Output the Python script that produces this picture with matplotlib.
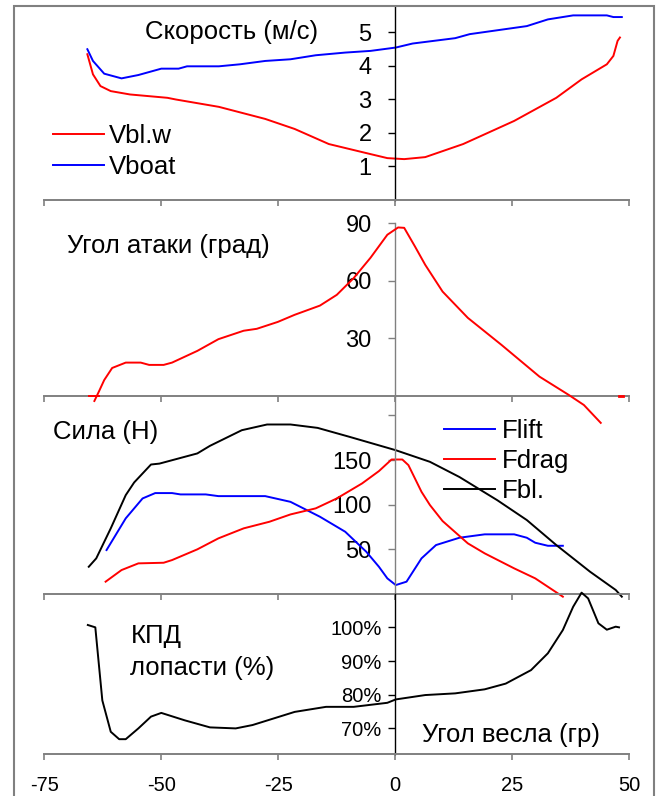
import matplotlib
matplotlib.use("Agg")
import matplotlib.pyplot as plt
from matplotlib.patches import Rectangle
from matplotlib.ticker import PercentFormatter, FixedLocator, NullFormatter

plt.rcParams['font.family'] = ['Liberation Sans', 'DejaVu Sans']
plt.rcParams['axes.unicode_minus'] = False

# ---------------- data ----------------
x_ticks = [-75, -50, -25, 0, 25, 50]

vboat_x = [-65.8, -64.6, -62.2, -58.5, -54.9, -50.0, -46.3, -44.5, -37.7, -33.2, -27.8, -22.4,
           -17.0, -10.7, -5.3, 0.1, 3.7, 12.8, 15.9, 28.1, 32.6, 38.0, 45.2, 46.6, 48.4]
vboat = [4.50, 4.15, 3.77, 3.63, 3.73, 3.92, 3.92, 3.99, 3.99, 4.05, 4.15, 4.20,
         4.32, 4.40, 4.45, 4.55, 4.67, 4.83, 4.95, 5.19, 5.39, 5.51, 5.51, 5.46, 5.46]

vblw_x = [-65.8, -64.6, -63.0, -60.8, -56.7, -48.7, -46.9, -37.7, -27.8, -21.5, -14.2, -5.3,
          -1.7, 1.9, 6.4, 14.5, 25.4, 34.4, 39.8, 45.2, 46.6, 47.5, 48.0]
vblw = [4.35, 3.75, 3.40, 3.25, 3.15, 3.05, 3.00, 2.78, 2.42, 2.12, 1.67, 1.37,
        1.25, 1.22, 1.28, 1.67, 2.36, 3.05, 3.60, 4.05, 4.30, 4.75, 4.85]

aoa_x = [-64.3, -63.3, -62.2, -60.5, -57.6, -54.4, -52.6, -49.5, -47.7, -42.3, -37.8, -32.4,
         -29.6, -25.1, -21.5, -16.1, -12.5, -8.9, -5.3, -1.7, 0.6, 1.9, 4.2, 6.4, 10.1,
         15.5, 22.7, 30.8, 37.1, 40.3, 43.9]
aoa = [-2.6, 2.5, 8.3, 14.6, 17.4, 17.4, 16.2, 16.2, 17.4, 23.5, 29.6, 34.0,
       35.0, 38.6, 42.3, 47.1, 52.7, 61.4, 72.0, 84.0, 87.8, 87.6, 77.9, 68.3, 54.4,
       40.7, 26.6, 10.1, 0.5, -4.7, -14.0]
aoa_mark_left_x = [-65.4, -63.3]
aoa_mark_right_x = [47.8, 48.7]
aoa_mark_y = [0.0, 0.0]

fbl_x = [-65.5, -63.9, -60.8, -57.6, -55.8, -52.2, -50.4, -42.3, -39.6, -32.8, -27.4, -22.4,
         -16.6, -9.8, 0.1, 7.4, 13.7, 21.8, 28.1, 34.4, 41.6, 47.1, 48.4]
fbl = [30.5, 39.9, 73.5, 110.7, 124.9, 145.0, 146.0, 157.4, 165.9, 183.4, 189.8, 189.8,
       186.0, 176.0, 161.0, 148.0, 131.0, 105.0, 82.8, 54.8, 25.0, 4.5, -3.0]

flift_x = [-61.7, -57.6, -54.0, -51.3, -47.7, -45.9, -40.5, -37.8, -27.8, -22.4, -16.1, -10.7,
           -6.2, -3.5, -1.7, 0.1, 2.4, 5.6, 8.7, 13.7, 19.1, 25.4, 28.1, 29.9, 32.6, 35.8]
flift = [49.2, 84.7, 107.0, 113.0, 113.0, 111.5, 111.5, 109.6, 109.6, 103.2, 86.5, 69.7,
         47.3, 30.5, 17.5, 10.0, 13.8, 39.9, 54.8, 63.0, 66.8, 66.8, 63.0, 57.4, 54.0, 54.0]

fdrag_x = [-61.9, -58.5, -54.9, -49.5, -47.7, -42.3, -37.8, -32.4, -26.9, -22.4, -17.0, -12.5,
           -7.1, -3.5, -0.8, 1.5, 2.8, 5.6, 7.4, 10.1, 15.5, 19.1, 25.4, 29.9, 35.8]
fdrag = [13.8, 26.8, 34.3, 35.0, 38.0, 50.0, 62.3, 73.5, 80.9, 89.1, 95.9, 107.0,
         123.8, 137.6, 150.6, 150.6, 144.3, 114.4, 99.6, 81.7, 56.7, 45.5, 28.7, 17.5, -3.0]

eff_x = [-65.7, -64.1, -63.5, -62.6, -60.8, -59.0, -57.6, -54.9, -52.2, -50.0, -45.0, -39.6,
         -34.1, -30.5, -21.5, -14.8, -8.9, -1.7, 0.1, 6.4, 12.8, 19.1, 23.6, 29.0, 32.6,
         35.8, 38.0, 39.8, 41.2, 43.4, 45.2, 47.1, 47.8]
eff = [100.7, 100.0, 91.3, 78.3, 69.0, 66.8, 66.8, 70.0, 73.5, 74.6, 72.4, 70.3,
       70.0, 71.0, 74.9, 76.4, 76.4, 77.6, 78.6, 79.9, 80.4, 81.6, 83.3, 87.3, 92.3,
       99.2, 106.1, 110.3, 108.6, 101.2, 99.3, 100.2, 100.0]

speed_ticks = [1, 2, 3, 4, 5]
aoa_ticks = [30, 60, 90]
force_ticks = [50, 100, 150, 200]
force_labels = ['50', '100', '150', '']
eff_ticks = [70, 80, 90, 100]

# ---------------- figure ----------------
W, H = 659, 796
fig = plt.figure(figsize=(W / 100, H / 100), dpi=100)

GRAY = '#808080'
RED = '#FF0000'
BLUE = '#0000FF'
LW = 1.4
TXT = 18.5

left = 44.3 / W
width = 585 / W


def mk_axes(top_px, bot_px):
    return fig.add_axes([left, 1 - bot_px / H, width, (bot_px - top_px) / H])


def style(ax, ylim, spine_color, bounds=None):
    ax.set_xlim(-75, 50)
    ax.set_ylim(*ylim)
    ax.patch.set_alpha(0)
    for s in ['top', 'right']:
        ax.spines[s].set_visible(False)
    ax.spines['left'].set_position(('data', 0))
    ax.spines['left'].set_color(spine_color)
    ax.spines['left'].set_linewidth(1.0)
    if bounds is not None:
        ax.spines['left'].set_bounds(*bounds)
    ax.spines['bottom'].set_color(GRAY)
    ax.spines['bottom'].set_linewidth(1.4)
    ax.set_xticks(x_ticks)
    ax.tick_params(axis='x', direction='out', length=4.5, width=1.2, color=GRAY,
                   labelsize=14.5, pad=11.5)
    ax.tick_params(axis='y', direction='out', length=5, width=1.0, color=spine_color,
                   labelsize=17, pad=12)


ax1 = mk_axes(6, 200)
ax2 = mk_axes(200, 396)
ax3 = mk_axes(396, 594)
ax4 = mk_axes(594, 754)

# Panel 1: speeds
style(ax1, (0, 5.79), 'black')
ax1.plot(vblw_x, vblw, color=RED, lw=LW, label='Vbl.w', clip_on=False)
ax1.plot(vboat_x, vboat, color=BLUE, lw=LW, label='Vboat', clip_on=False)
ax1.set_yticks(speed_ticks)
ax1.xaxis.set_major_formatter(NullFormatter())
ax1.text(-53.4, 4.80, 'Скорость (м/с)', fontsize=TXT, ha='left', va='baseline')
ax1.legend(loc='center left', bbox_to_anchor=(0.0142, 0.25), frameon=False,
           fontsize=TXT, handlelength=2.0, handletextpad=0.2, labelspacing=0.3,
           borderpad=0, borderaxespad=0)

# Panel 2: angle of attack
style(ax2, (0, 102.1), GRAY, bounds=(0, 90))
ax2.plot(aoa_x, aoa, color=RED, lw=LW, clip_on=False, zorder=5)
ax2.plot(aoa_mark_left_x, aoa_mark_y, color=RED, lw=LW, clip_on=False, zorder=5)
ax2.plot(aoa_mark_right_x, aoa_mark_y, color=RED, lw=2.0, clip_on=False, zorder=5)
ax2.set_yticks(aoa_ticks)
ax2.xaxis.set_major_formatter(NullFormatter())
ax2.text(-70.1, 74.6, 'Угол атаки (град)', fontsize=TXT, ha='left', va='baseline')

# Panel 3: forces
style(ax3, (0, 221.7), GRAY)
ax3.plot(flift_x, flift, color=BLUE, lw=LW, label='Flift', clip_on=False)
ax3.plot(fdrag_x, fdrag, color=RED, lw=LW, label='Fdrag', clip_on=False)
ax3.plot(fbl_x, fbl, color='black', lw=LW, label='Fbl.', clip_on=False)
ax3.yaxis.set_major_locator(FixedLocator(force_ticks))
ax3.set_yticklabels(force_labels)
ax3.xaxis.set_major_formatter(NullFormatter())
ax3.text(-73.1, 173.2, 'Сила (Н)', fontsize=TXT, ha='left', va='baseline')
ax3.legend(loc='center left', bbox_to_anchor=(0.683, 0.672), frameon=False,
           fontsize=TXT, handlelength=2.0, handletextpad=0.25, labelspacing=0.22,
           borderpad=0, borderaxespad=0)

# Panel 4: efficiency
style(ax4, (62.4, 109.9), 'black')
ax4.plot(eff_x, eff, color='black', lw=LW, clip_on=False)
ax4.set_yticks(eff_ticks)
ax4.yaxis.set_major_formatter(PercentFormatter(xmax=100, decimals=0))
ax4.tick_params(axis='y', labelsize=14.5, pad=5)
ax4.text(-56.6, 95.4, 'КПД', fontsize=TXT, ha='left', va='baseline')
ax4.text(-56.6, 85.9, 'лопасти (%)', fontsize=TXT, ha='left', va='baseline')
ax4.text(5.6, 66.0, 'Угол весла (гр)', fontsize=TXT, ha='left', va='baseline')

# outer frame
fig.patches.append(Rectangle((14 / W, -0.02), 640 / W, 1 - 6 / H + 0.02,
                             transform=fig.transFigure, fill=False,
                             edgecolor=GRAY, lw=1.5))

fig.savefig('out.png', dpi=100)
